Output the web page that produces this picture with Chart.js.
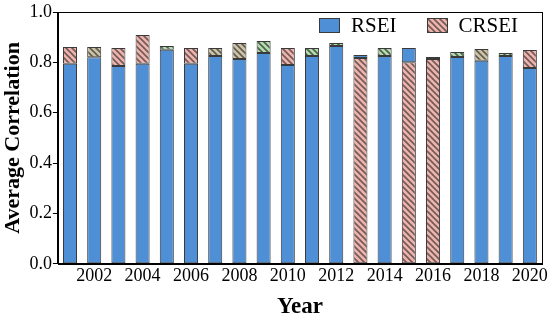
<!DOCTYPE html>
<html>
<head>
<meta charset="utf-8">
<script src="https://cdn.jsdelivr.net/npm/chart.js@4.4.1/dist/chart.umd.min.js"></script>
<style>
html,body{margin:0;padding:0;background:#fff;}
#wrap{position:relative;width:550px;height:325px;}
#legend{position:absolute;top:13px;left:319px;display:flex;align-items:center;
  font-family:"Liberation Serif","Times New Roman",serif;font-size:21px;color:#000;white-space:nowrap;}
.item{display:flex;align-items:center;}
.sw{width:19px;height:13px;border:1px solid #3a3a3a;margin-right:11px;}
</style>
</head>
<body>
<div id="wrap"><canvas id="c" width="550" height="325"></canvas><div id="legend"></div></div>
<script>
const years = ['2001','2002','2003','2004','2005','2006','2007','2008','2009','2010',
               '2011','2012','2013','2014','2015','2016','2017','2018','2019','2020'];
const rsei  = [0.794,0.820,0.786,0.794,0.850,0.794,0.825,0.813,0.837,0.790,
               0.825,0.865,0.829,0.825,0.857,0.821,0.821,0.806,0.825,0.778];
const crsei = [0.861,0.861,0.857,0.909,0.865,0.857,0.857,0.877,0.885,0.857,
               0.857,0.877,0.817,0.857,0.800,0.813,0.841,0.853,0.837,0.849];
// hatch tone per year (style only)
const hatchTone = ['r','t','r','r','g','r','t','t','g','r','g','g','r','g','r','r','g','t','g','r'];

function hatchCanvas(bg, fg){
  const s = 6;
  const cv = document.createElement('canvas');
  cv.width = s; cv.height = s;
  const g = cv.getContext('2d');
  g.fillStyle = bg; g.fillRect(0,0,s,s);
  g.strokeStyle = fg; g.lineWidth = 1.6;
  g.beginPath();
  for (let k=-1;k<=1;k++){ g.moveTo(-1+k*s,-1); g.lineTo(s+1+k*s,s+1); }
  g.stroke();
  return cv;
}
const ctx = document.getElementById('c').getContext('2d');
const hc = {
  r: hatchCanvas('#efb3ab','#6e5a58'),
  t: hatchCanvas('#cfc3a6','#5d5a50'),
  g: hatchCanvas('#b5dcae','#4d5e4c')
};
const patterns = {};
for (const k in hc) patterns[k] = ctx.createPattern(hc[k],'repeat');
const blue = '#4f8fd6';

// smaller value drawn in front: each dataset is a floating segment
const rseiSeg  = rsei.map((v,i)=> v <= crsei[i] ? [0, v] : [crsei[i], v]);
const crseiSeg = crsei.map((v,i)=> v < rsei[i] ? [0, v] : [rsei[i], v]);

const framePlugin = {
  id:'frame',
  afterDraw(chart){
    const a = chart.chartArea, c = chart.ctx;
    c.save(); c.strokeStyle = '#000'; c.lineWidth = 1;
    c.strokeRect(Math.round(a.left)+0.5, Math.round(a.top)+0.5,
                 Math.round(a.right-a.left), Math.round(a.bottom-a.top));
    c.restore();
  }
};

const chart = new Chart(ctx, {
  type:'bar',
  data:{
    labels: years,
    datasets:[
      {label:'RSEI', data: rseiSeg, backgroundColor: blue,
       borderColor:'#3a3a3a', borderWidth:1, borderSkipped:false},
      {label:'CRSEI', data: crseiSeg,
       backgroundColor: (c)=> c.type==='data' ? patterns[hatchTone[c.dataIndex]] : patterns.r,
       borderColor:'#3a3a3a', borderWidth:1, borderSkipped:false}
    ]
  },
  options:{
    responsive:false,
    animation:false,
    layout:{padding:{left:0,right:6,top:12,bottom:4}},
    datasets:{bar:{grouped:false, barPercentage:0.58, categoryPercentage:1}},
    plugins:{
      tooltip:{enabled:false},
      legend:{display:false}
    },
    scales:{
      x:{
        grid:{drawOnChartArea:false, color:'#000', tickLength:0},
        border:{color:'#000'},
        ticks:{
          color:'#000', autoSkip:false, maxRotation:0, padding:2,
          font:{family:'"Liberation Serif", "Times New Roman", serif', size:18},
          callback:function(v,i){ const y = years[i]; return (+y % 2 === 0) ? y : ''; }
        },
        title:{display:true, text:'Year', color:'#000', padding:{top:4,bottom:0},
          font:{family:'"Liberation Serif", "Times New Roman", serif', size:23, weight:'bold'}}
      },
      y:{
        min:0, max:1,
        grid:{drawOnChartArea:false, color:'#000', tickLength:5},
        border:{color:'#000'},
        ticks:{
          stepSize:0.2, color:'#000', padding:1,
          font:{family:'"Liberation Serif", "Times New Roman", serif', size:18},
          callback:(v)=> v.toFixed(1)
        },
        title:{display:true, text:'Average Correlation', color:'#000', padding:{top:0,bottom:2},
          font:{family:'"Liberation Serif", "Times New Roman", serif', size:22, weight:'bold'}}
      }
    }
  },
  plugins:[framePlugin]
});

// HTML legend built from the chart's datasets
const leg = document.getElementById('legend');
chart.data.datasets.forEach((ds, i)=>{
  const it = document.createElement('div'); it.className='item';
  if (i>0) it.style.marginLeft = '30px';
  const sw = document.createElement('span'); sw.className='sw';
  if (i===0) sw.style.background = blue;
  else sw.style.backgroundImage = 'url(' + hc.r.toDataURL() + ')';
  const tx = document.createElement('span'); tx.textContent = ds.label;
  it.appendChild(sw); it.appendChild(tx); leg.appendChild(it);
});
</script>
</body>
</html>
